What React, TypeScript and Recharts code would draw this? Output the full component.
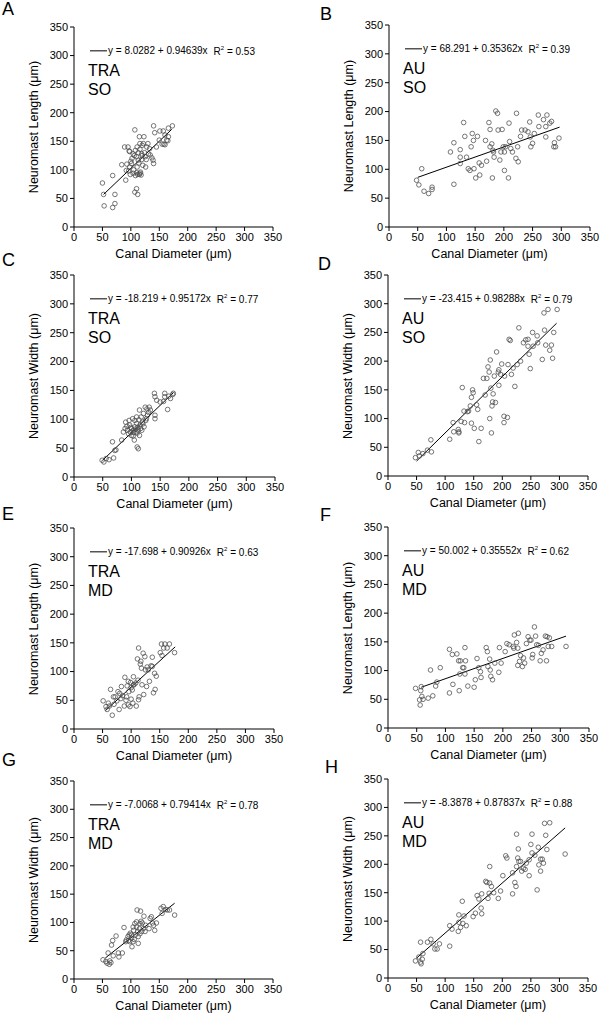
import React from 'react';
import { ScatterChart, Scatter, XAxis, YAxis, ReferenceLine } from 'recharts';

const ticks = [0, 50, 100, 150, 200, 250, 300, 350];

// [canal diameter, neuromast size]
const ptsA = [
  [50, 77], [52, 57], [53, 37], [68, 90], [72, 57], [72, 41], [68, 34], [84, 109], [89, 140], [91, 82],
  [95, 140], [98, 132], [92, 99], [101, 111], [99, 92], [104, 94], [107, 61], [107, 170], [110, 123], [111, 140],
  [111, 105], [115, 158], [116, 146], [113, 117], [110, 67], [112, 57], [116, 94], [119, 128], [122, 146], [123, 158],
  [125, 123], [126, 105], [128, 140], [130, 146], [133, 137], [134, 126], [139, 117], [140, 111], [140, 177], [142, 165],
  [145, 140], [150, 152], [151, 168], [157, 168], [158, 145], [160, 161], [163, 152], [166, 158], [173, 177], [166, 173],
  [100, 115], [102, 120], [105, 100], [106, 125], [108, 90], [110, 95], [112, 92], [114, 112], [115, 92], [117, 96],
  [118, 91], [119, 118], [120, 125], [121, 108], [104, 128], [98, 105], [93, 110], [96, 98], [108, 134], [113, 130],
  [116, 136], [124, 130], [127, 118], [131, 128], [137, 121], [155, 145], [160, 144], [165, 151], [120, 143], [97, 133]
];

const ptsB = [
  [48, 81], [52, 73], [57, 101], [61, 62], [69, 58], [75, 65], [75, 69], [113, 74], [107, 130], [113, 146],
  [124, 134], [124, 121], [124, 110], [130, 181], [132, 157], [135, 121], [138, 101], [141, 98], [143, 139], [145, 162],
  [147, 150], [148, 101], [151, 85], [154, 157], [157, 111], [161, 107], [158, 90], [168, 150], [170, 114], [174, 181],
  [176, 169], [176, 139], [179, 144], [180, 85], [182, 130], [183, 121], [186, 201], [189, 197], [190, 168], [193, 116],
  [195, 130], [197, 169], [199, 139], [201, 130], [201, 98], [203, 139], [208, 85], [209, 180], [210, 148], [212, 136],
  [215, 130], [222, 197], [221, 119], [225, 113], [224, 139], [229, 157], [231, 168], [237, 168], [242, 165], [245, 182],
  [246, 156], [247, 139], [250, 145], [253, 162], [260, 194], [261, 174], [269, 186], [273, 174], [275, 194], [273, 156],
  [280, 180], [283, 183], [287, 139], [288, 146], [290, 139], [296, 154], [181, 133]
];

const ptsC = [
  [49, 29], [52, 26], [56, 32], [61, 30], [67, 61], [69, 33], [71, 46], [73, 47], [83, 64], [86, 78],
  [89, 84], [90, 95], [93, 81], [96, 98], [97, 90], [98, 78], [100, 84], [102, 101], [103, 71], [105, 64],
  [106, 87], [108, 78], [109, 93], [110, 52], [112, 49], [112, 81], [114, 72], [114, 116], [115, 90], [117, 104],
  [118, 81], [119, 95], [121, 110], [122, 87], [124, 121], [125, 98], [127, 118], [128, 107], [131, 121], [133, 116],
  [140, 145], [141, 139], [141, 107], [141, 101], [144, 133], [150, 130], [156, 131], [158, 139], [158, 145], [163, 117],
  [165, 140], [168, 136], [172, 143], [173, 145], [103, 81], [106, 98], [100, 72], [109, 104], [92, 88], [95, 75],
  [104, 77], [107, 83], [111, 86], [116, 84], [120, 92], [126, 101], [130, 112], [99, 86], [113, 99], [110, 76]
];

const ptsD = [
  [48, 32], [53, 41], [55, 35], [61, 39], [69, 45], [75, 63], [76, 42], [108, 64], [114, 93], [115, 77],
  [123, 81], [124, 77], [124, 75], [128, 95], [130, 154], [133, 113], [134, 93], [139, 112], [141, 113], [144, 122],
  [146, 137], [148, 150], [149, 145], [146, 92], [151, 83], [155, 124], [157, 116], [159, 60], [163, 83], [167, 170],
  [170, 141], [173, 170], [175, 190], [177, 181], [178, 100], [179, 202], [180, 153], [181, 75], [182, 122], [183, 129],
  [184, 143], [186, 174], [188, 128], [190, 216], [193, 181], [194, 185], [194, 158], [197, 177], [199, 195], [203, 104],
  [203, 93], [204, 174], [209, 102], [210, 194], [212, 238], [214, 236], [216, 177], [219, 188], [222, 156], [226, 194],
  [229, 258], [232, 200], [237, 232], [241, 237], [245, 238], [245, 226], [247, 212], [249, 187], [253, 250], [254, 226],
  [261, 244], [262, 232], [270, 203], [273, 284], [274, 254], [276, 228], [280, 290], [283, 219], [286, 228], [288, 205],
  [290, 250], [296, 290]
];

const ptsE = [
  [51, 49], [56, 39], [58, 34], [60, 45], [64, 69], [67, 24], [70, 43], [72, 56], [75, 49], [79, 34],
  [80, 62], [82, 53], [89, 90], [88, 40], [91, 50], [93, 75], [95, 83], [95, 42], [96, 65], [98, 39],
  [99, 81], [100, 52], [102, 68], [103, 45], [104, 91], [105, 77], [109, 40], [111, 122], [112, 85], [113, 141],
  [113, 51], [114, 56], [116, 113], [118, 106], [119, 77], [121, 132], [122, 60], [124, 126], [125, 103], [127, 74],
  [130, 103], [132, 83], [135, 110], [137, 109], [137, 125], [139, 63], [141, 97], [142, 69], [144, 92], [151, 133],
  [153, 148], [154, 128], [157, 141], [159, 148], [163, 141], [167, 148], [176, 133], [83, 74], [92, 56], [77, 65],
  [100, 72], [104, 77], [69, 56], [108, 80], [117, 118], [128, 108], [85, 58], [62, 40]
];

const ptsF = [
  [48, 69], [55, 49], [56, 40], [57, 65], [58, 72], [59, 55], [61, 50], [70, 52], [74, 101], [78, 56],
  [83, 73], [85, 80], [91, 105], [107, 137], [107, 61], [112, 128], [113, 76], [120, 129], [123, 117], [124, 65],
  [125, 94], [126, 117], [130, 105], [132, 105], [134, 140], [134, 94], [135, 117], [139, 73], [150, 71], [152, 84],
  [155, 121], [158, 105], [161, 98], [162, 88], [171, 140], [173, 133], [174, 107], [177, 120], [178, 101], [179, 90],
  [182, 84], [186, 113], [193, 97], [194, 140], [197, 113], [204, 133], [207, 147], [211, 145], [218, 142], [219, 139],
  [220, 162], [224, 149], [226, 139], [226, 109], [227, 165], [229, 116], [231, 126], [234, 107], [236, 122], [238, 113],
  [241, 147], [244, 159], [247, 153], [249, 153], [251, 122], [252, 128], [255, 176], [257, 160], [259, 145], [262, 144],
  [265, 117], [267, 130], [270, 136], [274, 160], [277, 159], [276, 117], [279, 142], [281, 157], [285, 142], [310, 142]
];

const ptsG = [
  [51, 34], [56, 31], [58, 28], [60, 46], [62, 26], [63, 32], [65, 29], [66, 60], [68, 68], [69, 41],
  [74, 76], [78, 46], [79, 39], [85, 46], [88, 91], [91, 66], [92, 69], [95, 75], [97, 78], [98, 66],
  [99, 81], [101, 72], [102, 57], [104, 66], [105, 86], [107, 98], [108, 78], [110, 101], [111, 122], [113, 75],
  [113, 63], [115, 89], [116, 98], [117, 120], [119, 84], [120, 99], [122, 89], [123, 111], [125, 84], [126, 95],
  [132, 89], [134, 107], [136, 110], [138, 99], [140, 95], [142, 86], [145, 99], [153, 125], [155, 116], [157, 128],
  [161, 123], [164, 122], [168, 122], [177, 113], [104, 92], [101, 78], [110, 92], [116, 80], [106, 70], [118, 102],
  [96, 68], [112, 84]
];

const ptsH = [
  [48, 30], [54, 37], [57, 63], [57, 28], [58, 25], [60, 33], [61, 43], [69, 63], [75, 68], [79, 60],
  [82, 51], [86, 51], [90, 60], [108, 56], [108, 92], [112, 86], [123, 82], [124, 111], [124, 98], [127, 89],
  [130, 135], [131, 96], [133, 109], [137, 92], [149, 108], [153, 114], [156, 145], [159, 139], [163, 123], [164, 148],
  [164, 113], [171, 170], [173, 168], [175, 140], [177, 149], [178, 196], [178, 167], [181, 161], [185, 150], [193, 140],
  [197, 153], [201, 180], [206, 215], [208, 211], [218, 185], [218, 148], [222, 168], [224, 161], [225, 253], [225, 196],
  [227, 211], [228, 227], [229, 205], [232, 205], [234, 188], [237, 193], [240, 191], [242, 202], [247, 208], [247, 180],
  [250, 235], [252, 253], [252, 220], [257, 216], [261, 155], [263, 230], [264, 199], [267, 209], [267, 188], [270, 209],
  [272, 202], [274, 272], [276, 251], [278, 226], [283, 273], [310, 218]
];

// fitted line end points
const fitA = [[52, 57], [172, 171]];
const fitB = [[50, 86], [297, 173]];
const fitC = [[50, 29], [173, 146]];
const fitD = [[50, 26], [295, 266]];
const fitE = [[55, 32], [177, 143]];
const fitF = [[58, 71], [310, 160]];
const fitG = [[55, 37], [177, 134]];
const fitH = [[50, 35], [310, 264]];

const equations = [
  'y = 8.0282 + 0.94639x',
  'y = 68.291 + 0.35362x',
  'y = -18.219 + 0.95172x',
  'y = -23.415 + 0.98288x',
  'y = -17.698 + 0.90926x',
  'y = 50.002 + 0.35552x',
  'y = -7.0068 + 0.79414x',
  'y = -8.3878 + 0.87837x'
];
const rSquared = ['0.53', '0.39', '0.77', '0.79', '0.63', '0.62', '0.78', '0.88'];
const species = ['TRA', 'AU', 'TRA', 'AU', 'TRA', 'AU', 'TRA', 'AU'];
const canals = ['SO', 'SO', 'SO', 'SO', 'MD', 'MD', 'MD', 'MD'];
const letters = ['A', 'B', 'C', 'D', 'E', 'F', 'G', 'H'];
const yTitles = [
  'Neuromast Length (\u03bcm)', 'Neuromast Length (\u03bcm)',
  'Neuromast Width (\u03bcm)', 'Neuromast Width (\u03bcm)',
  'Neuromast Length (\u03bcm)', 'Neuromast Length (\u03bcm)',
  'Neuromast Width (\u03bcm)', 'Neuromast Width (\u03bcm)'
];
const xTitle = 'Canal Diameter (\u03bcm)';

const points = [ptsA, ptsB, ptsC, ptsD, ptsE, ptsF, ptsG, ptsH];
const fits = [fitA, fitB, fitC, fitD, fitE, fitF, fitG, fitH];

// layout of each plot area on the page
const plotX = [74, 389, 74, 388, 74, 388, 74, 388];
const plotY = [27, 25, 275, 275, 528, 527, 781, 779];
const plotW = [199, 201, 201, 200, 200, 201, 199, 200];
const plotH = [200, 202, 202, 201, 201, 201, 198, 199];
const letterPos = [[2, 0], [320, 5], [2, 251], [318, 255], [2, 505], [320, 506], [2, 751], [325, 758]];

const FONT = '"Liberation Sans", Arial, Helvetica, sans-serif';
const CHART_W = 300;
const CHART_H = 280;
const TOP = 20;
const AXIS_W = 30;
const AXIS_H = 30;

const dot = (p: any) => (
  <circle cx={p.cx} cy={p.cy} r={2.3} fill="none" stroke="#4a4a4a" strokeWidth={0.75} />
);

function Panel({ i }: { i: number }) {
  const px = plotX[i];
  const py = plotY[i];
  const colLeft = i % 2 === 0 ? 0 : 300;
  const left = px - colLeft;
  const data = points[i].map(([x, y]) => ({ x, y }));
  const fit = fits[i];

  return (
    <>
      <div style={{ position: 'absolute', left: colLeft, top: py - TOP }}>
        <ScatterChart
          width={CHART_W}
          height={CHART_H}
          margin={{ top: TOP, left: left - AXIS_W, right: CHART_W - left - plotW[i], bottom: CHART_H - TOP - plotH[i] - AXIS_H }}
        >
          <XAxis
            type="number"
            dataKey="x"
            domain={[0, 350]}
            ticks={ticks}
            interval={0}
            height={AXIS_H}
            tickSize={4}
            tick={{ fontSize: 11, fill: '#000', fontFamily: FONT }}
            axisLine={{ stroke: '#000' }}
            tickLine={{ stroke: '#000' }}
          />
          <YAxis
            type="number"
            dataKey="y"
            domain={[0, 350]}
            ticks={ticks}
            interval={0}
            width={AXIS_W}
            tickSize={4}
            tick={{ fontSize: 11, fill: '#000', fontFamily: FONT }}
            axisLine={{ stroke: '#000' }}
            tickLine={{ stroke: '#000' }}
          />
          <Scatter data={data} shape={dot} isAnimationActive={false} />
          <ReferenceLine
            segment={[{ x: fit[0][0], y: fit[0][1] }, { x: fit[1][0], y: fit[1][1] }]}
            stroke="#000"
            strokeWidth={1}
            ifOverflow="visible"
          />
        </ScatterChart>
      </div>

      {/* panel letter */}
      <div style={{ position: 'absolute', left: letterPos[i][0], top: letterPos[i][1], fontSize: 18, lineHeight: 1 }}>
        {letters[i]}
      </div>

      {/* y title */}
      <div
        style={{
          position: 'absolute',
          left: px - 40,
          top: py + plotH[i] / 2,
          transform: 'translate(-50%, -50%) rotate(-90deg)',
          whiteSpace: 'nowrap',
          fontSize: 12.5,
          lineHeight: 1
        }}
      >
        {yTitles[i]}
      </div>

      {/* x title */}
      <div
        style={{
          position: 'absolute',
          left: px + plotW[i] / 2,
          top: py + plotH[i] + 27,
          transform: 'translate(-50%, -50%)',
          whiteSpace: 'nowrap',
          fontSize: 12.5,
          lineHeight: 1
        }}
      >
        {xTitle}
      </div>

      {/* equation legend */}
      <div
        style={{
          position: 'absolute',
          left: px + 16,
          top: py + 24,
          transform: 'translateY(-50%)',
          display: 'flex',
          alignItems: 'center',
          whiteSpace: 'nowrap',
          fontSize: 10,
          lineHeight: 1
        }}
      >
        <span style={{ display: 'inline-block', width: 17, borderTop: '1.5px solid #000', marginRight: 1 }} />
        <span>{equations[i]}</span>
        <span style={{ marginLeft: 6 }}>
          R<sup style={{ fontSize: 6 }}>2</sup> = {rSquared[i]}
        </span>
      </div>

      {/* group */}
      <div style={{ position: 'absolute', left: px + 14, top: py + 34, fontSize: 16, lineHeight: '19px' }}>
        {species[i]}
        <br />
        {canals[i]}
      </div>
    </>
  );
}

export default function App() {
  return (
    <div
      style={{
        position: 'absolute',
        left: 0,
        top: 0,
        width: 600,
        height: 1014,
        background: '#fff',
        fontFamily: FONT,
        color: '#000',
        overflow: 'hidden'
      }}
    >
      {letters.map((l, i) => (
        <Panel key={l} i={i} />
      ))}
    </div>
  );
}
